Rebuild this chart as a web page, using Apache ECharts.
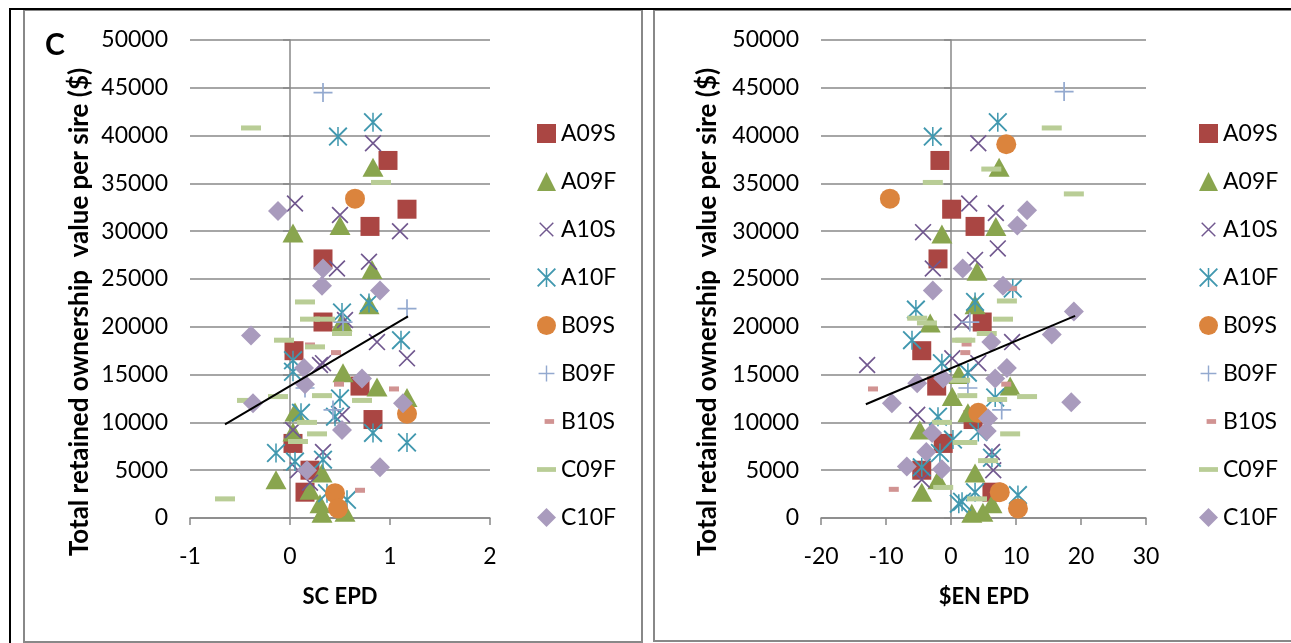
<!DOCTYPE html>
<html><head><meta charset="utf-8">
<script src="https://cdn.jsdelivr.net/npm/echarts/dist/echarts.min.js"></script>
<style>html,body{margin:0;padding:0;background:#fff}#c{width:1291px;height:643px}</style>
</head><body><div id="c"></div>
<script>
// ---------- data ----------
const names = ['A09S','A09F','A10S','A10F','B09S','B09F','B10S','C09F','C10F'];
const scTicks = [-1, 0, 1, 2];
const enTicks = [-20, -10, 0, 10, 20, 30];
const yTicks = [0, 5000, 10000, 15000, 20000, 25000, 30000, 35000, 40000, 45000, 50000];

// Left panel: SC EPD vs value
const scA09S = [[0.98,37400],[1.17,32300],[0.8,30500],[0.33,27100],[0.33,20500],[0.04,17500],[0.7,13800],[0.83,10300],[0.03,7800],[0.2,5000],[0.15,2700]];
const scA09F = [[0.83,36700],[0.5,30600],[0.03,29800],[0.82,26000],[0.79,22300],[0.52,20500],[0.53,15200],[0.87,13700],[1.17,12600],[0.05,11100],[0.03,9000],[0.32,4700],[-0.14,4000],[0.2,2900],[0.3,1500],[0.55,600],[0.32,500]];
const scA10S = [[0.83,39200],[0.05,32900],[0.5,31700],[1.1,30000],[0.79,26800],[0.47,26100],[0.55,20700],[0.87,18400],[1.17,16700],[0.33,16200],[0.3,16000],[0.52,10800],[0.03,9200],[0.33,6900],[0.08,5000],[0.2,3700]];
const scA10F = [[0.83,41400],[0.48,39900],[0.79,22500],[0.52,21500],[1.11,18600],[0.03,16500],[0.03,15300],[0.5,12500],[0.11,11000],[0.45,10600],[0.83,8900],[1.17,7900],[-0.14,6800],[0.33,6100],[0.05,5900],[0.37,2600],[0.57,1900]];
const scB09S = [[0.65,33400],[1.17,10900],[0.45,2600],[0.48,1000]];
const scB09F = [[0.33,44500],[1.17,21900],[0.53,20500],[0.15,13600],[0.43,11300]];
const scB10S = [[0.2,18100],[0.46,17300],[0.49,14000],[1.04,13500],[0.7,2900]];
const scC09F = [[-0.39,40800],[0.91,35100],[0.15,22600],[0.2,20800],[0.35,20800],[0.52,19300],[-0.06,18600],[0.25,17900],[-0.43,12300],[-0.12,12700],[0.32,12800],[0.72,12300],[0.17,10000],[0.27,8800],[0.08,8000],[-0.65,2000]];
const scC10F = [[-0.12,32100],[0.33,26100],[0.32,24300],[0.9,23800],[-0.39,19100],[0.14,15700],[0.72,14600],[0.15,14000],[-0.37,12000],[1.13,12000],[0.52,9200],[0.17,5000],[0.9,5300]];
const scTrend = [[-0.65,9800],[1.18,21100]];

// Right panel: $EN EPD vs value
const enA09S = [[-1.7,37400],[0.1,32300],[3.7,30500],[-2,27100],[4.8,20500],[-4.5,17500],[-2.2,13800],[3.4,10300],[-1.2,7800],[-4.5,5000],[6.3,2700]];
const enA09F = [[7.4,36700],[6.9,30500],[-1.4,29700],[4,25800],[3.7,22300],[-3.2,20400],[1.2,15000],[9.1,13800],[0.2,12700],[2.6,11000],[-4.8,9200],[3.7,4700],[-2,4000],[-4.5,2700],[6.3,1500],[4.9,600],[3.2,500]];
const enA10S = [[4.2,39200],[2.8,32900],[6.9,31900],[-4.3,29900],[7.2,28200],[3.7,27000],[-2.8,26100],[1.7,20500],[9.4,18400],[0.2,16700],[4.2,16200],[-12.9,16000],[-5.2,10800],[6.3,6900],[6.5,5000],[-4.5,4000]];
const enA10F = [[7.2,41400],[-2.8,39900],[9.5,24000],[3.7,22600],[-5.4,21800],[-6,18600],[-1.4,16200],[2.6,15200],[6.8,12600],[-2,10600],[4.2,9000],[0.3,8200],[-1.7,6800],[6.3,6300],[-4.5,5300],[3.7,2700],[10.3,2400],[1.7,1700],[1.2,1500]];
const enB09S = [[-9.4,33400],[8.5,39100],[4.2,11000],[7.5,2700],[10.3,1000]];
const enB09F = [[17.4,44600],[2.9,20500],[2.6,13600],[7.8,11300]];
const enB10S = [[2.4,18200],[2.2,17300],[8.5,14000],[-12,13500],[-8.8,3000],[9.4,24000]];
const enC09F = [[15.5,40800],[6.2,36500],[-2.8,35100],[18.9,33900],[8.6,22700],[8,20800],[-5.2,20900],[-3.7,20400],[5.5,19300],[1.7,18600],[2.2,18600],[1.4,14400],[2.5,12800],[7.1,12400],[11.7,12700],[-1.4,10000],[9.1,8800],[1.8,7900],[2.5,7900],[5.7,6000],[-1.2,3200],[4,2000]];
const enC10F = [[11.7,32200],[10.2,30600],[1.8,26100],[-2.8,23800],[8,24300],[18.9,21600],[15.5,19200],[6.2,18400],[8.6,15700],[6.8,14600],[-1.2,14600],[-5.2,14100],[-9.1,12000],[18.5,12100],[5.7,10400],[5.5,9100],[-2.9,8900],[-3.8,6900],[-6.8,5400],[-1.4,5100]];
const enTrend = [[-13.1,11900],[19.1,21150]];

// ---------- styles ----------
const P_XX = 'path://M0,0.7 L0.7,0 L10,9.3 L9.3,10 Z M10,0.7 L0.7,10 L0,9.3 L9.3,0 Z';
const P_AST = 'path://M0,0.7 L0.7,0 L10,9.3 L9.3,10 Z M10,0.7 L0.7,10 L0,9.3 L9.3,0 Z M4.6,0 L5.4,0 L5.4,10 L4.6,10 Z';
const P_PLUS = 'path://M4.55,0 L5.45,0 L5.45,4.55 L10,4.55 L10,5.45 L5.45,5.45 L5.45,10 L4.55,10 L4.55,5.45 L0,5.45 L0,4.55 L4.55,4.55 Z';
const sty = {
  A09S:{symbol:'rect', size:19, color:'#AA4643', icon:'rect'},
  A09F:{symbol:'triangle', size:[21,19], color:'#89A54E', icon:'triangle'},
  A10S:{symbol:P_XX, size:17, color:'#71588F', icon:'path://M-1.5,-1.5 M11.5,11.5 M0,0.7 L0.7,0 L10,9.3 L9.3,10 Z M10,0.7 L0.7,10 L0,9.3 L9.3,0 Z'},
  A10F:{symbol:P_AST, size:19, color:'#4198AF', icon:P_AST},
  B09S:{symbol:'circle', size:20, color:'#DB843D', icon:'circle'},
  B09F:{symbol:P_PLUS, size:19, color:'#93A9CF', icon:'path://M-1,-1 M11,11 M4.55,0 L5.45,0 L5.45,4.55 L10,4.55 L10,5.45 L5.45,5.45 L5.45,10 L4.55,10 L4.55,5.45 L0,5.45 L0,4.55 L4.55,4.55 Z'},
  B10S:{symbol:'rect', size:[10,5], color:'#D19392', icon:'path://M0,0 M20,20 M8,7.5 L18,7.5 L18,12.5 L8,12.5 Z'},
  C09F:{symbol:'rect', size:[20,5], color:'#B9CD96', icon:'path://M0,0 M20,20 M0,7.5 L20,7.5 L20,12.5 L0,12.5 Z'},
  C10F:{symbol:'diamond', size:20, color:'#A99BBD', icon:'diamond'}
};
const panelData = [
  {A09S:scA09S,A09F:scA09F,A10S:scA10S,A10F:scA10F,B09S:scB09S,B09F:scB09F,B10S:scB10S,C09F:scC09F,C10F:scC10F},
  {A09S:enA09S,A09F:enA09F,A10S:enA10S,A10F:enA10F,B09S:enB09S,B09F:enB09F,B10S:enB10S,C09F:enC09F,C10F:enC10F}
];
const trends = [scTrend, enTrend];

const FONT = 'Lato';
const GRAY = '#888888';

function xAxisFor(gi, ticks){
  return {
    type:'value', gridIndex:gi, min:ticks[0], max:ticks[ticks.length-1], interval:ticks[1]-ticks[0],
    axisLine:{show:true, onZero:false, lineStyle:{color:GRAY, width:1.5}},
    axisTick:{show:true, length:7, lineStyle:{color:GRAY, width:1.5}},
    splitLine:{show:false},
    axisLabel:{color:'#000', fontSize:23, fontFamily:FONT, margin:27, formatter:v => String(v)}
  };
}
function yAxesFor(gi){
  const base = {type:'value', gridIndex:gi, position:'left', min:yTicks[0], max:yTicks[yTicks.length-1], interval:yTicks[1]-yTicks[0]};
  return [
    Object.assign({}, base, {
     axisLine:{show:false, onZero:false}, axisTick:{show:false},
     splitLine:{show:true, lineStyle:{color:GRAY, width:1.5}},
     axisLabel:{color:'#000', fontSize:23, fontFamily:FONT, margin:22, formatter:v => String(v)}}),
    Object.assign({}, base, {
     axisLine:{show:true, onZero:true, lineStyle:{color:GRAY, width:1.5}},
     axisTick:{show:true, length:7, lineStyle:{color:GRAY, width:1.5}},
     axisLabel:{show:false}, splitLine:{show:false}})
  ];
}

const series = [];
[0,1].forEach(p => {
  names.forEach((n, i) => {
    const s = sty[n];
    series.push({
      type:'scatter', name:n, xAxisIndex:p, yAxisIndex:p*2,
      data: panelData[p][n], symbol:s.symbol, symbolSize:s.size,
      itemStyle:{color:s.color, opacity:1}, z: 2 + i*0.01,
      emphasis:{disabled:true}, silent:true
    });
  });
  series.push({
    type:'line', name:'trend'+p, xAxisIndex:p, yAxisIndex:p*2, data:trends[p],
    symbol:'none', lineStyle:{color:'#000', width:2}, z:5, silent:true
  });
});

function legendFor(left){
  return {
    orient:'vertical', left:left, top:122, padding:0, itemWidth:19, itemHeight:19, itemGap:25,
    selectedMode:false,
    textStyle:{color:'#000', fontSize:23, fontFamily:FONT, lineHeight:19, padding:[0,0,0,0]},
    data: names.map(n => ({name:n, icon:sty[n].icon, itemStyle:{color:sty[n].color}}))
  };
}

const yTitle = 'Total retained ownership  value per sire ($)';
const option = {
  animation:false,
  backgroundColor:'#fff',
  grid:[
    {left:190, top:40, width:300, height:478},
    {left:821, top:40, width:325, height:478}
  ],
  xAxis:[xAxisFor(0, scTicks), xAxisFor(1, enTicks)],
  yAxis:[...yAxesFor(0), ...yAxesFor(1)],
  legend:[legendFor(537), legendFor(1199)],
  series: series,
  graphic:[
    {type:'rect', shape:{x:24, y:10, width:618, height:632}, style:{fill:'none', stroke:GRAY, lineWidth:2}, z:100},
    {type:'rect', shape:{x:654, y:10, width:640, height:631}, style:{fill:'none', stroke:GRAY, lineWidth:2}, z:100},
    {type:'line', shape:{x1:9, y1:9, x2:1291, y2:9}, style:{stroke:'#000', lineWidth:2}, z:101},
    {type:'line', shape:{x1:10, y1:9, x2:10, y2:643}, style:{stroke:'#000', lineWidth:2}, z:101},
    {type:'text', left:45, top:30, style:{text:'C', fill:'#000', font:'bold 30px Lato'}, z:101},
    {type:'text', x:80, y:312, rotation:Math.PI/2, style:{text:yTitle, fill:'#000', font:'bold 26px Lato', align:'center', verticalAlign:'middle'}, z:101},
    {type:'text', x:708, y:312, rotation:Math.PI/2, style:{text:yTitle, fill:'#000', font:'bold 26px Lato', align:'center', verticalAlign:'middle'}, z:101},
    {type:'text', x:340, y:597, style:{text:'SC EPD', fill:'#000', font:'bold 22px Lato', align:'center', verticalAlign:'middle'}, z:101},
    {type:'text', x:984, y:597, style:{text:'$EN EPD', fill:'#000', font:'bold 22px Lato', align:'center', verticalAlign:'middle'}, z:101}
  ]
};
const chart = echarts.init(document.getElementById('c'), null, {renderer:'canvas'});
chart.setOption(option);
</script>
</body></html>
